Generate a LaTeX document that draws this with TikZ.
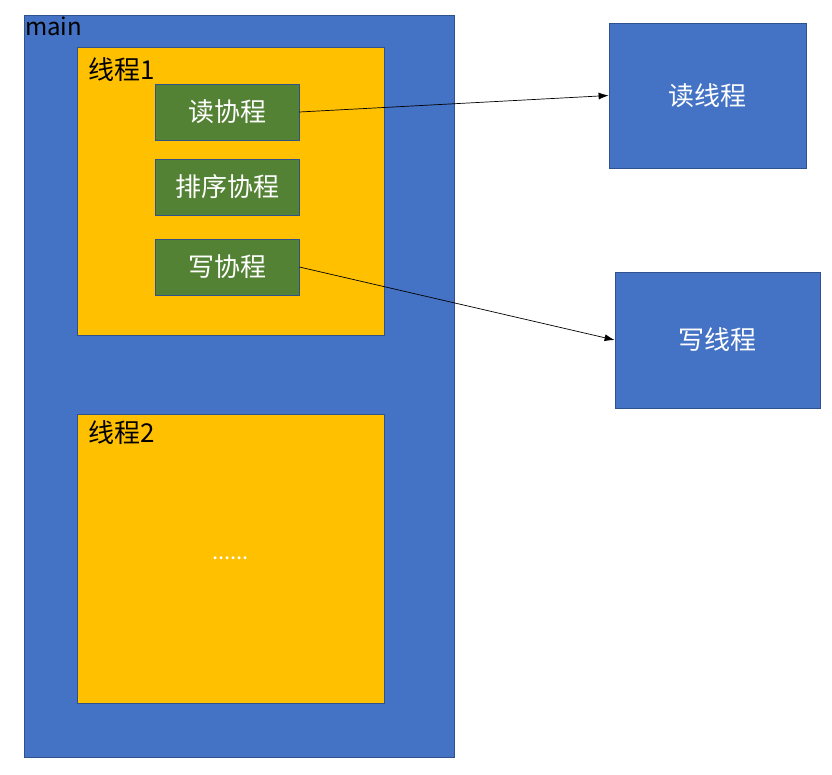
\documentclass[tikz,border=0pt]{standalone}
\usepackage{fontspec}
\setmainfont{Noto Sans CJK SC}
\usetikzlibrary{arrows.meta}

\begin{document}
\begin{tikzpicture}[x=1pt,y=-1pt,
    box/.style={draw=edgeblue,line width=0.8pt,inner sep=0pt,text=white,
        font=\fontsize{26}{30}\selectfont},
    bluebox/.style={box,fill=mainblue},
    threadbox/.style={box,fill=threadorange},
    cobox/.style={box,fill=cogreen,minimum width=144pt,minimum height=56pt},
    tag/.style={anchor=north west,inner sep=0pt,text=black,
        font=\fontsize{26}{30}\selectfont},
    link/.style={-{Latex[length=10pt,width=7pt]},line width=0.7pt,black}]
    \definecolor{mainblue}{HTML}{4472C4}
    \definecolor{edgeblue}{HTML}{2F528F}
    \definecolor{threadorange}{HTML}{FFC000}
    \definecolor{cogreen}{HTML}{548235}
    \useasboundingbox (0,0) rectangle (832,774);

    % process and its threads
    \node[bluebox,minimum width=430pt,minimum height=742pt] (main) at (239,386) {};
    \node[tag,font=\fontsize{24}{28}\selectfont] (mainlbl) at (25,17) {main};

    \node[threadbox,minimum width=307pt,minimum height=288pt] (thr1) at (230.5,191) {};
    \node[tag] (thr1lbl) at (88,57) {线程1};

    \node[threadbox,minimum width=307pt,minimum height=289pt] (thr2) at (230.5,558.5) {};
    \node[tag] (thr2lbl) at (88,420) {线程2};
    \node[text=white,font=\fontsize{22}{24}\selectfont] (more) at (thr2) {......};

    % coroutines
    \node[cobox] (rco) at (227,112) {读协程};
    \node[cobox] (sco) at (227,187) {排序协程};
    \node[cobox] (wco) at (227,267) {写协程};

    % io threads
    \node[bluebox,minimum width=197pt,minimum height=145pt] (rthr) at (707.5,95.5) {读线程};
    \node[bluebox,minimum width=205pt,minimum height=136pt] (wthr) at (717.5,340) {写线程};

    \draw[link] (rco.east) -- (rthr.west);
    \draw[link] (wco.east) -- (wthr.west);
\end{tikzpicture}
\end{document}
